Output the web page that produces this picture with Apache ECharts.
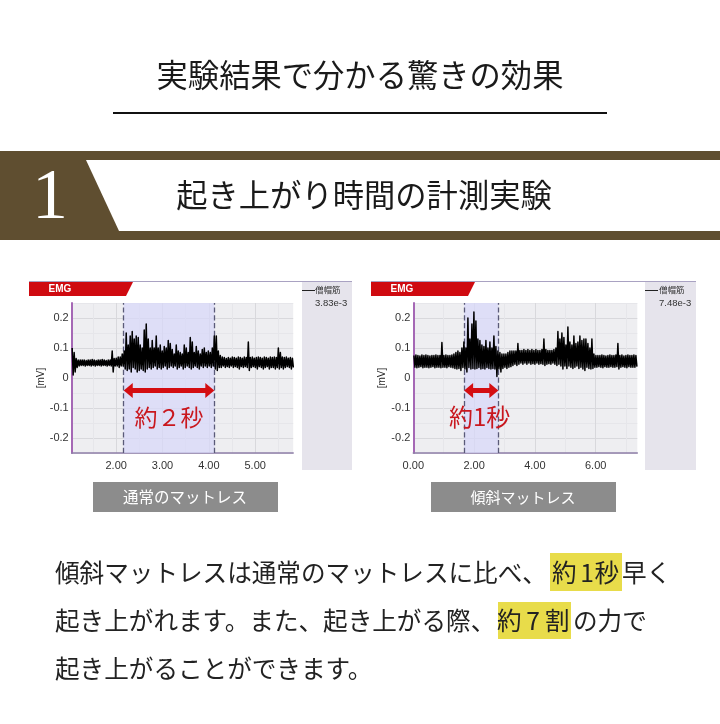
<!DOCTYPE html>
<html><head><meta charset="utf-8">
<style>html,body{margin:0;padding:0;background:#fff}#c{width:720px;height:724px}</style>
<script src="https://cdn.jsdelivr.net/npm/echarts@6/dist/echarts.min.js"></script>
</head><body><div id="c"></div>
<script>
// ---- values ----
var yTicks = [0.2, 0.1, 0, -0.1, -0.2];
var normalXTicks = [2, 3, 4, 5];
var tiltXTicks = [0, 2, 4, 6];
var normalGrid = [1.5, 2, 2.5, 3, 3.5, 4, 4.5, 5, 5.5];
var tiltGrid = [0, 1, 2, 3, 4, 5, 6, 7];
var normalStart = 1.05, normalStep = 0.0432;
var tiltStart = 0.02, tiltStep = 0.0658;
var normalSelect = [2.16, 4.12];
var tiltSelect = [1.67, 2.80];
var normalHigh = [
.10,.085,.065,.06,.06,.06,.06,.058,.06,.06,
.062,.06,.058,.06,.06,.062,.06,.058,.06,.06,
.09,.065,.066,.07,.07,.08,.09,.15,.11,.14,
.155,.13,.14,.135,.11,.10,.16,.18,.13,.10,
.125,.10,.14,.10,.11,.09,.105,.10,.125,.115,
.095,.08,.11,.09,.085,.08,.11,.10,.085,.135,
.12,.085,.105,.09,.08,.095,.10,.085,.09,.085,
.10,.14,.14,.09,.075,.07,.068,.065,.068,.066,
.07,.068,.066,.07,.068,.066,.07,.068,.12,.068,
.07,.066,.068,.07,.068,.066,.07,.068,.066,.07,
.068,.07,.068,.10,.085,.07,.068,.07,.066,.068,.066];
var normalLow = [
.01,.02,.035,.04,.042,.042,.04,.042,.042,.04,
.042,.04,.042,.042,.04,.042,.042,.04,.042,.04,
.02,.04,.04,.035,.04,.04,.03,.025,.03,.02,
.035,.03,.02,.025,.03,.025,.02,.03,.035,.03,
.035,.04,.03,.035,.03,.035,.04,.03,.035,.04,
.035,.04,.03,.035,.04,.03,.035,.04,.035,.03,
.035,.04,.035,.03,.04,.035,.04,.035,.04,.035,
.04,.03,.025,.035,.035,.04,.035,.038,.035,.04,
.035,.038,.035,.03,.038,.035,.038,.035,.025,.035,
.038,.035,.03,.038,.035,.03,.035,.038,.03,.035,
.035,.03,.035,.03,.035,.03,.035,.038,.035,.03,.035];
var tiltHigh = [
.075,.077,.075,.073,.077,.075,.077,.075,.073,.075,
.075,.077,.075,.075,.118,.075,.077,.075,.075,.077,
.08,.085,.09,.085,.10,.12,.10,.20,.13,.18,
.22,.19,.13,.125,.11,.105,.125,.10,.12,.10,
.14,.105,.09,.085,.08,.08,.08,.085,.09,.09,
.09,.09,.115,.092,.092,.095,.092,.095,.092,.095,
.092,.095,.092,.092,.095,.13,.095,.092,.092,.092,
.095,.10,.155,.13,.15,.135,.11,.17,.12,.11,
.14,.115,.12,.14,.125,.13,.13,.115,.10,.13,
.08,.075,.075,.075,.077,.075,.073,.075,.077,.075,
.075,.077,.115,.075,.077,.073,.075,.077,.075,.075,
.077,.075];
var tiltLow = [
.036,.034,.036,.038,.034,.036,.036,.034,.036,.038,
.034,.036,.036,.034,.036,.036,.034,.038,.036,.034,
.032,.03,.032,.025,.035,.03,.02,.035,.03,.032,
.03,.032,.035,.03,.032,.03,.035,.032,.03,.032,
.03,.005,.03,.02,.032,.036,.032,.036,.038,.042,
.046,.042,.046,.05,.046,.05,.046,.05,.046,.048,
.046,.05,.046,.048,.046,.042,.046,.048,.046,.05,
.046,.042,.046,.04,.03,.04,.032,.04,.036,.032,
.036,.04,.032,.036,.03,.025,.036,.032,.03,.032,
.036,.036,.038,.036,.034,.038,.036,.036,.038,.036,
.036,.038,.03,.036,.038,.036,.034,.038,.036,.036,
.036,.038];

// ---- helpers ----
var JP = '"Noto Sans CJK JP","Noto Sans",sans-serif';
var LATIN = '"Liberation Sans",sans-serif';
function trace(start, step, hi, lo) {
  var out = [];
  for (var i = 0; i < hi.length; i++) {
    out.push([start + i * step, hi[i]]);
    out.push([start + (i + 0.5) * step, lo[i]]);
  }
  return out;
}
function near(list, v) {
  return list.some(function (t) { return Math.abs(t - v) < 1e-6; });
}
function xAxis(idx, min, max, ticks, gridVals, colors) {
  return {
    type: 'value', gridIndex: idx, min: min, max: max,
    axisLine: { onZero: false, show: true, lineStyle: { color: '#8f7fa8', width: 1.5 } },
    axisTick: { show: false, customValues: gridVals },
    splitLine: { show: true, lineStyle: { color: colors, width: 1 } },
    axisLabel: {
      margin: 7, color: '#333', fontSize: 11, fontFamily: LATIN,
      customValues: ticks,
      formatter: function (v) { return v.toFixed(2); }
    }
  };
}
function yAxis(idx) {
  return {
    type: 'value', gridIndex: idx, min: -0.25, max: 0.25, interval: 0.05,
    name: '[mV]', nameLocation: 'middle', nameGap: 25, nameRotate: 90,
    nameTextStyle: { color: '#222', fontSize: 10, fontFamily: LATIN },
    axisLine: { show: true, onZero: false, lineStyle: { color: '#a568b5', width: 2 } },
    axisTick: { show: false },
    splitLine: { show: true, lineStyle: { color: ['#e6e6ea', '#d8d8dc'], width: 1 } },
    axisLabel: {
      margin: 3, color: '#333', fontSize: 11, fontFamily: LATIN,
      formatter: function (v) {
        var r = Math.round(v * 100) / 100;
        return near(yTicks, r) ? String(r) : '';
      }
    }
  };
}
function signal(idx, data) {
  return {
    type: 'line', xAxisIndex: idx, yAxisIndex: idx, data: data, z: 3,
    showSymbol: false, symbol: 'none', sampling: false, silent: true,
    lineStyle: { color: '#000', width: 1.5, join: 'round' }
  };
}
function notes(idx, sel) {
  return {
    type: 'line', xAxisIndex: idx, yAxisIndex: idx, data: [], z: 1, silent: true,
    markArea: {
      silent: true, z: 1,
      itemStyle: { color: 'rgba(216,216,250,0.72)' },
      data: [[{ xAxis: sel[0] }, { xAxis: sel[1] }]]
    },
    markLine: {
      silent: true, symbol: 'none', z: 2, label: { show: false },
      lineStyle: { color: '#5a5a78', type: 'dashed', width: 1.3 },
      data: [{ xAxis: sel[0] }, { xAxis: sel[1] }]
    }
  };
}
function arrow(idx, sel, inset, text, size, cx) {
  return {
    type: 'line', xAxisIndex: idx, yAxisIndex: idx, data: [], z: 5, silent: true,
    markLine: {
      silent: true, z: 5, symbol: ['triangle', 'triangle'], symbolSize: [15, 9],
      label: { show: false },
      lineStyle: { color: '#d40d12', type: 'solid', width: 5 },
      data: [[{ coord: [sel[0] + inset, -0.042] }, { coord: [sel[1] - inset, -0.042] }]]
    },
    markPoint: {
      silent: true, z: 5, symbol: 'circle', symbolSize: 0,
      label: { show: true, formatter: text, position: 'inside', color: '#c9171e', fontSize: size, fontFamily: JP },
      data: [{ coord: [cx, -0.13] }]
    }
  };
}
function txt(t, x, y, size, opt) {
  opt = opt || {};
  return { type: 'text', z: opt.z || 10, silent: true, x: x, y: y, style: {
    text: t, fontSize: size, fontFamily: opt.font || JP, fontWeight: opt.weight || 'normal',
    fill: opt.color || '#222', align: opt.align || 'left', verticalAlign: 'middle'
  } };
}
function rect(x, y, w, h, color, z) {
  return { type: 'rect', silent: true, z: z || 0, shape: { x: x, y: y, width: w, height: h }, style: { fill: color } };
}
function poly(points, color, z) {
  return { type: 'polygon', silent: true, z: z || 1, shape: { points: points }, style: { fill: color } };
}

var graphics = [
  txt('実験結果で分かる驚きの効果', 360, 75, 31.3, { align: 'center', color: '#1a1a1a' }),
  rect(113, 112, 494, 2, '#111'),
  rect(0, 151, 720, 89, '#5f4e30'),
  poly([[86, 160], [720, 160], [720, 231], [119, 231]], '#ffffff', 2),
  txt('1', 50, 199, 72, { align: 'center', color: '#ffffff', font: '"Liberation Serif",serif' }),
  txt('起き上がり時間の計測実験', 364, 195, 31.3, { align: 'center', color: '#1a1a1a' }),
  // chart frames
  rect(302, 281, 50, 189, '#e6e4ec'),
  rect(645, 281, 51, 189, '#e6e4ec'),
  rect(29, 281, 323, 1, '#a9a2c2', 1),
  rect(371, 281, 325, 1, '#a9a2c2', 1),
  poly([[29, 282], [133, 282], [126, 296], [29, 296]], '#cf0a10', 3),
  poly([[371, 282], [475, 282], [468, 296], [371, 296]], '#cf0a10', 3),
  txt('EMG', 60, 289.5, 10, { align: 'center', color: '#fff', font: LATIN, weight: 'bold' }),
  txt('EMG', 402, 289.5, 10, { align: 'center', color: '#fff', font: LATIN, weight: 'bold' }),
  rect(302, 290, 13, 1, '#222', 4),
  rect(645, 290, 13, 1, '#222', 4),
  txt('僧帽筋', 315, 290, 8.5, { color: '#333' }),
  txt('3.83e-3', 315, 303, 9.5, { color: '#333', font: LATIN }),
  txt('僧帽筋', 659, 290, 8.5, { color: '#333' }),
  txt('7.48e-3', 659, 303, 9.5, { color: '#333', font: LATIN }),
  // captions
  rect(93, 482, 185, 30, '#8c8c8c'),
  txt('通常のマットレス', 185, 497, 15.5, { align: 'center', color: '#fff' }),
  rect(431, 482, 185, 30, '#8c8c8c'),
  txt('傾斜マットレス', 523, 497, 15, { align: 'center', color: '#fff' }),
  // body text
  rect(550, 553, 72, 38, '#e8dc4a'),
  rect(498, 602, 73, 37, '#e8dc4a'),
  txt('傾斜マットレスは通常のマットレスに比べ、', 55, 573, 24.6),
  txt('約', 552, 573, 24.6),
  txt('1', 587, 573, 24.6, { align: 'center' }),
  txt('秒', 594.5, 573, 24.6),
  txt('早く', 622, 573, 24.6),
  txt('起き上がれます。また、起き上がる際、', 55, 621, 24.6),
  txt('約', 497, 621, 24.6),
  txt('7', 533, 621, 24.6, { align: 'center' }),
  txt('割', 545, 621, 24.6),
  txt('の力で', 573, 621, 24.6),
  txt('起き上がることができます。', 55, 669, 24.6)
];

var chart = echarts.init(document.getElementById('c'), null, { renderer: 'canvas' });
chart.setOption({
  animation: false,
  backgroundColor: '#fff',
  graphic: graphics,
  grid: [
    { left: 71.7, top: 303, width: 221.5, height: 150, show: true, backgroundColor: '#eeeef1', borderWidth: 0 },
    { left: 413.3, top: 303, width: 224, height: 150, show: true, backgroundColor: '#eeeef1', borderWidth: 0 }
  ],
  xAxis: [
    xAxis(0, 1.04, 5.82, normalXTicks, normalGrid, ['#e6e6ea', '#d8d8dc']),
    xAxis(1, 0, 7.37, tiltXTicks, tiltGrid, ['#d8d8dc', '#e6e6ea'])
  ],
  yAxis: [yAxis(0), yAxis(1)],
  series: [
    notes(0, normalSelect),
    notes(1, tiltSelect),
    signal(0, trace(normalStart, normalStep, normalHigh, normalLow)),
    signal(1, trace(tiltStart, tiltStep, tiltHigh, tiltLow)),
    arrow(0, normalSelect, 0.1, '約２秒', 23, 3.14),
    arrow(1, tiltSelect, 0.15, '約1秒', 24, 2.18)
  ]
});
</script></body></html>
